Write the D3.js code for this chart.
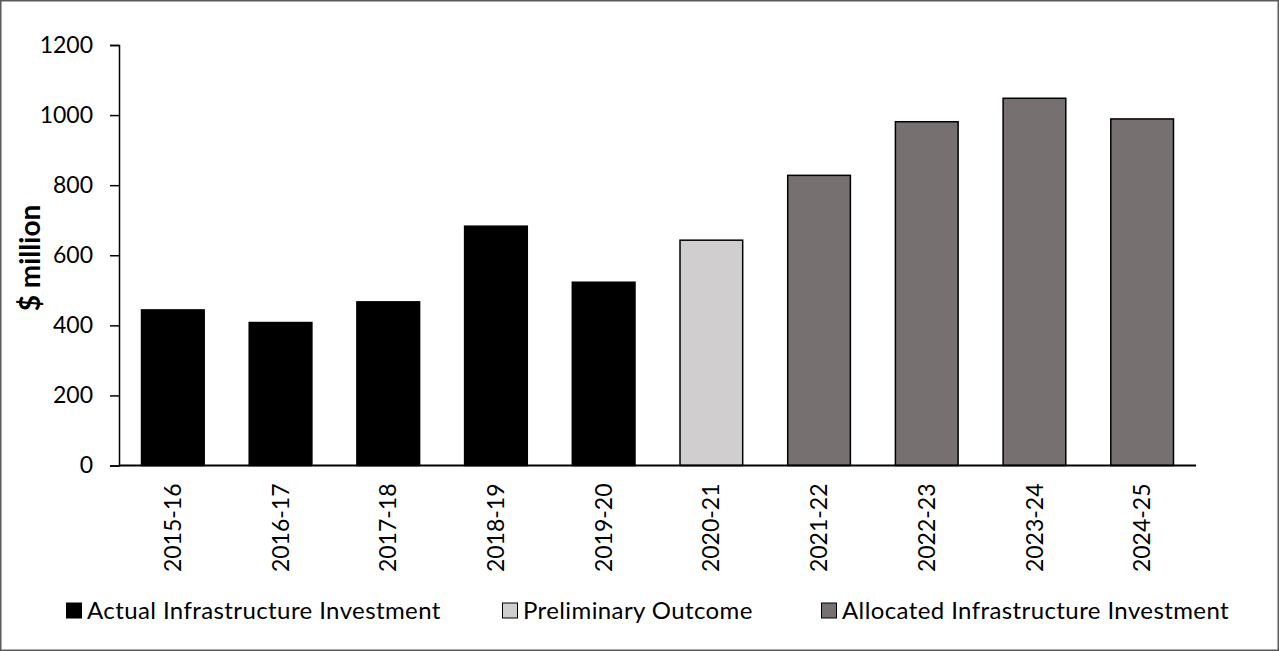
<!DOCTYPE html>
<html>
<head>
<meta charset="utf-8">
<script src="https://cdn.jsdelivr.net/npm/d3@7"></script>
<style>
  html, body { margin: 0; padding: 0; background: #fff; }
  svg { display: block; }
  text { font-family: Lato, "Open Sans", sans-serif; fill: #000; }
</style>
</head>
<body>
<svg id="chart" width="1279" height="651"></svg>
<script>
// Infrastructure investment by financial year ($ million)
const years = ["2015-16", "2016-17", "2017-18", "2018-19", "2019-20",
               "2020-21", "2021-22", "2022-23", "2023-24", "2024-25"];
const investment = [444, 408, 467, 683, 523, 643, 828, 981, 1048, 989];
const seriesOfYear = ["actual", "actual", "actual", "actual", "actual",
                      "preliminary", "allocated", "allocated", "allocated", "allocated"];

const seriesKeys = ["actual", "preliminary", "allocated"];
const seriesNames = ["Actual Infrastructure Investment", "Preliminary Outcome",
                     "Allocated Infrastructure Investment"];
const seriesColors = ["#000000", "#d0cecf", "#767170"];

const yTicks = [0, 200, 400, 600, 800, 1000, 1200];

const W = 1279, H = 651;
const plot = { left: 119, right: 1196, top: 45, bottom: 465.5 };

const svg = d3.select("#chart");

// outer frame
svg.append("rect")
  .attr("x", 0.75).attr("y", 0.75)
  .attr("width", W - 1.5).attr("height", H - 1.5)
  .attr("fill", "none").attr("stroke", "#5a5a5a").attr("stroke-width", 1.5);

const x = d3.scaleBand()
  .domain(years)
  .range([plot.left, plot.right])
  .paddingInner(0.418)
  .paddingOuter(0.209);

const y = d3.scaleLinear()
  .domain([0, 1200])
  .range([plot.bottom, plot.top]);

const color = d3.scaleOrdinal().domain(seriesKeys).range(seriesColors);

// bars
svg.append("g")
  .selectAll("rect")
  .data(years.map((yr, i) => ({ yr, v: investment[i], s: seriesOfYear[i] })))
  .join("rect")
  .attr("x", d => x(d.yr))
  .attr("y", d => y(d.v))
  .attr("width", x.bandwidth())
  .attr("height", d => y(0) - y(d.v))
  .attr("fill", d => color(d.s))
  .attr("stroke", "#000")
  .attr("stroke-width", 1.5);

// y axis
const yAxis = svg.append("g")
  .attr("transform", `translate(${plot.left},0)`)
  .call(d3.axisLeft(y).tickValues(yTicks).tickSize(9).tickPadding(17).tickFormat(d3.format("d")));
yAxis.select(".domain").attr("stroke", "#000").attr("stroke-width", 1.5);
yAxis.selectAll(".tick line").attr("stroke", "#000").attr("stroke-width", 1.5);
yAxis.selectAll(".tick text")
  .style("font-family", "Lato, sans-serif")
  .style("font-size", "23px")
  .attr("fill", "#000");

// x axis
const xAxis = svg.append("g")
  .attr("transform", `translate(0,${plot.bottom})`)
  .call(d3.axisBottom(x).tickSize(0).tickPadding(0));
xAxis.select(".domain").attr("stroke", "#000").attr("stroke-width", 2)
  .attr("d", `M${plot.left},0H${plot.right}`);
xAxis.selectAll(".tick text")
  .style("font-family", "Lato, sans-serif")
  .style("font-size", "23px")
  .attr("fill", "#000")
  .attr("transform", "rotate(-90)")
  .attr("text-anchor", "end")
  .attr("x", -18)
  .attr("y", 0)
  .attr("dy", "0.35em");

// y axis title
svg.append("text")
  .attr("transform", "translate(40,258) rotate(-90)")
  .attr("text-anchor", "middle")
  .style("font-size", "28px")
  .style("font-weight", "bold")
  .text("$ million");

// legend
const legendX = [66, 502, 821];
const legend = svg.append("g");
seriesKeys.forEach((k, i) => {
  const g = legend.append("g").attr("transform", `translate(${legendX[i]},602.5)`);
  g.append("rect")
    .attr("x", 0.5).attr("y", 0.5)
    .attr("width", 15).attr("height", 15)
    .attr("fill", seriesColors[i])
    .attr("stroke", "#000").attr("stroke-width", 1);
  g.append("text")
    .attr("x", 21).attr("y", 16)
    .style("font-size", "24px")
    .style("letter-spacing", "0.4px")
    .text(seriesNames[i]);
});
</script>
</body>
</html>
